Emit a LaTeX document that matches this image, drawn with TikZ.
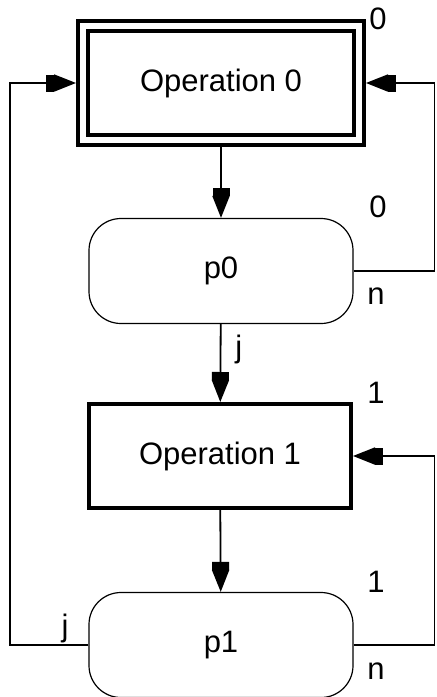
\documentclass[tikz,border=0pt]{standalone}
\usepackage{fontspec}
\setmainfont{Liberation Sans}
\usetikzlibrary{arrows.meta}

\begin{document}
\begin{tikzpicture}[x=0.5pt, y=-0.5pt,
  every node/.style={font=\fontsize{15.5}{18}\selectfont},
  opbox/.style={draw, line width=2pt, minimum width=131pt, minimum height=52pt, outer sep=1pt},
  testbox/.style={draw, line width=0.6pt, rounded corners=16pt, minimum width=132pt, minimum height=52.5pt},
  tag/.style={inner sep=0pt},
  flow/.style={line width=0.9pt, -{Rectangle[length=4pt,width=8.5pt]Triangle[length=11pt,width=8.5pt]}}]
\useasboundingbox (0,0) rectangle (436,697);
% Operations and tests
\node[opbox, double, double distance=3pt, minimum width=138pt, minimum height=57pt, outer sep=3.5pt] (op0) at (221,83) {Operation 0};
\node[testbox] (p0) at (221,271) {p0};
\node[opbox] (op1) at (220,456) {Operation 1};
\node[testbox] (p1) at (221,645) {p1};
% Numbers
\node[tag] (num0) at (378,19) {0};
\node[tag] (num0p) at (378,207) {0};
\node[tag] (num1) at (376,393) {1};
\node[tag] (num1p) at (376,582) {1};
% Corners of the loops
\coordinate (back0) at (434.5,83);
\coordinate (back1) at (434.5,456);
\coordinate (left0) at (10,83);
% Flow
\draw[flow] (op0) -- (p0);
\draw[flow] (p0) -- node[tag, pos=0.33, right=7pt] (yes0) {j} (op1);
\draw[flow] (op1) -- (p1);
\draw[flow] (p0.east) -| (back0) -- (op0.east);
\draw[flow] (p1.east) -| (back1) -- (op1.east);
\draw[flow] (p1.west) -| (left0) -- (op0.west);
\node[tag] (no0) at (376,296) {n};
\node[tag] (no1) at (376,671) {n};
\node[tag] (yes1) at (65,628) {j};
\end{tikzpicture}
\end{document}
